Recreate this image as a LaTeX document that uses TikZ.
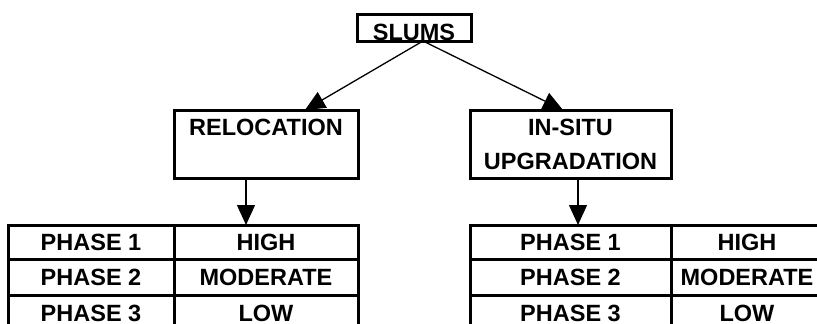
\documentclass[tikz,border=0pt]{standalone}
\usepackage{fontspec}
\setmainfont{Liberation Sans}
\usetikzlibrary{arrows.meta,calc}
\begin{document}
\begin{tikzpicture}[x=1pt,y=-1pt]

		\tikzset{
		  box/.style={
			draw,
			line width=3pt,
			inner sep=0pt,
			outer sep=0pt,
			align=center,
			font=\bfseries\fontsize{23.5}{34}\selectfont,
		  },
		  link/.style={
			line width=1.3pt,
			-{Triangle[length=20pt,width=18pt]},
		  },
		}
		\useasboundingbox (0,0) rectangle (817,324);
		\clip (0,0) rectangle (817,324);
		% top and the two branches
		\node[box,minimum width=114pt,minimum height=26.5pt,text height=26pt,text depth=0pt] (slums) at (414,27.75) {SLUMS};
		\node[box,minimum width=184pt,minimum height=68pt] (reloc) at (266,144) {RELOCATION\\\mbox{}};
		\node[box,minimum width=201pt,minimum height=68pt] (insitu) at (570.5,144) {IN-SITU\\UPGRADATION};
		% left table
		\node[box,minimum width=166pt,minimum height=34pt] (lphaseA) at (91,242) {PHASE 1};
		\node[box,minimum width=184pt,minimum height=34pt] (lhigh) at (266,242) {HIGH};
		\node[box,minimum width=166pt,minimum height=36pt] (lphaseB) at (91,277) {PHASE 2};
		\node[box,minimum width=184pt,minimum height=36pt] (lmod) at (266,277) {MODERATE};
		\node[box,minimum width=166pt,minimum height=36pt] (lphaseC) at (91,313) {PHASE 3};
		\node[box,minimum width=184pt,minimum height=36pt] (llow) at (266,313) {LOW};
		% right table
		\node[box,minimum width=201pt,minimum height=34pt] (rphaseA) at (570.5,242) {PHASE 1};
		\node[box,minimum width=152pt,minimum height=34pt] (rhigh) at (747,242) {HIGH};
		\node[box,minimum width=201pt,minimum height=36pt] (rphaseB) at (570.5,277) {PHASE 2};
		\node[box,minimum width=152pt,minimum height=36pt] (rmod) at (747,277) {MODERATE};
		\node[box,minimum width=201pt,minimum height=36pt] (rphaseC) at (570.5,313) {PHASE 3};
		\node[box,minimum width=152pt,minimum height=36pt] (rlow) at (747,313) {LOW};
		% arrows
		\draw[link] ([xshift=9pt]slums.south)--([xshift=39pt]reloc.north);
		\draw[link] ([xshift=9pt]slums.south)--([xshift=-7.5pt]insitu.north);
		\draw[link] ([xshift=-20pt]reloc.south)--([xshift=-20pt]lhigh.north);
		\draw[link] ([xshift=7.5pt]insitu.south)--([xshift=7.5pt]rphaseA.north);

\end{tikzpicture}
\end{document}
